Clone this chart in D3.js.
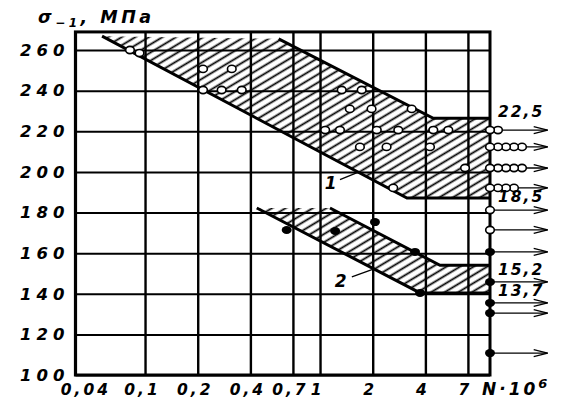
<!DOCTYPE html>
<html><head><meta charset="utf-8">
<script src="https://cdn.jsdelivr.net/npm/d3@7"></script>
<style>
body{margin:0;background:#fff;}
svg{display:block;}
.t{font-family:"DejaVu Sans",sans-serif;font-style:italic;font-weight:bold;fill:#000;}
</style></head>
<body><svg id="c" width="574" height="411"></svg>
<script>
// ---- data ----
const xTicks = [0.04, 0.1, 0.2, 0.4, 0.7, 1, 2, 4, 7];
const xTickLabels = ["0,04", "0,1", "0,2", "0,4", "0,7", "1", "2", "4", "7"];
const yTicks = [100, 120, 140, 160, 180, 200, 220, 240, 260];
const yTickLabels = ["100", "120", "140", "160", "180", "200", "220", "240", "260"];
const xDomain = [0.04, 9.36];
const yDomain = [100, 268.9];

// band boundaries [N·10^6, MPa]
const band1Lower = [[0.0568, 266.8], [3.14, 187.1], [9.36, 187.1]];
const band1Upper = [[0.58, 265.5], [4.44, 226.4], [9.36, 226.4]];
const band2Lower = [[0.435, 182.2], [3.73, 140.4], [9.36, 140.4]];
const band2Upper = [[1.14, 182.2], [4.85, 154.0], [9.36, 154.0]];

// series 1 (open circles)
const s1N = [0.082, 0.093, 0.2145, 0.313, 0.2145, 0.274, 0.357, 1.33, 1.73, 1.48, 1.97, 3.34,
             1.07, 1.30, 2.11, 2.80, 4.44, 5.41, 1.69, 2.40, 4.25, 6.74, 2.62];
const s1S = [260, 258.5, 250.7, 250.7, 240.3, 240.3, 240.3, 240.3, 240.3, 231, 231, 231,
             220.6, 220.6, 220.6, 220.6, 220.6, 220.6, 212.3, 212.3, 212.3, 201.9, 192.1];
// series 2 (solid dots)
const s2N = [0.645, 1.22, 2.06, 3.49, 3.73];
const s2S = [171.4, 170.9, 175.3, 160.6, 140.4];

// run-outs (unbroken specimens) at N end
const runoutN = 9.36;
const runoutEndN = 20;
const runOpenS = [220.6, 212.3, 201.9, 192.1, 181.2, 171.4];
const runOpenCount = [2, 5, 5, 4, 1, 1];
const runSolidS = [160.6, 145.8, 135.5, 130.5, 110.8];

// level labels
const levelLabels = ["22,5", "18,5", "15,2", "13,7"];
const levelValues = [226.4, 187.1, 154.0, 140.4];

// curve labels with leaders
const curveNames = ["1", "2"];
const curveLabelPos = [[1.15, 191.5], [1.31, 143.5]];
const curveLeaders = [[[1.30, 196.2], [1.63, 199.6]], [[1.52, 148.3], [1.98, 151.9]]];

// ---- drawing ----
const svg = d3.select("#c");
const x = d3.scaleLog().domain(xDomain).range([75.4, 490]);
const y = d3.scaleLinear().domain([100, 260]).range([375, 50]);
const pTop = y(yDomain[1]), pBottom = y(100), pLeft = x(xDomain[0]), pRight = x(xDomain[1]);

const defs = svg.append("defs");
const pat = defs.append("pattern").attr("id", "hatch").attr("patternUnits", "userSpaceOnUse")
  .attr("width", 12).attr("height", 7).attr("patternTransform", "rotate(-31)");
pat.append("line").attr("x1", 0).attr("x2", 12).attr("y1", 3.5).attr("y2", 3.5)
  .attr("stroke", "#000").attr("stroke-width", 1.8);

// grid via axes
const gx = svg.append("g").attr("transform", `translate(0,${pBottom})`)
  .call(d3.axisBottom(x).tickValues(xTicks).tickSize(-(pBottom - pTop)).tickPadding(9)
    .tickFormat((d, i) => xTickLabels[i]));
gx.select(".domain").remove();
gx.selectAll(".tick line").attr("stroke", "#000").attr("stroke-width", 2.4);
gx.selectAll(".tick text").attr("class", "t").attr("font-size", 15.5)
  .style("letter-spacing", "3px").attr("text-anchor", "middle")
  .attr("dx", (d, i) => i === 0 ? 10 : -3);

const gy = svg.append("g").attr("transform", `translate(${pLeft},0)`)
  .call(d3.axisLeft(y).tickValues(yTicks).tickSize(-(pRight - pLeft)).tickPadding(6)
    .tickFormat((d, i) => yTickLabels[i]));
gy.select(".domain").remove();
gy.selectAll(".tick line").attr("stroke", "#000").attr("stroke-width", 2);
gy.selectAll(".tick text").attr("class", "t").attr("font-size", 16.5)
  .style("letter-spacing", "5px");

// bands
const line = d3.line().x(d => x(d[0])).y(d => y(d[1]));
function band(lower, upper) {
  const poly = lower.concat(upper.slice().reverse());
  svg.append("path").attr("d", line(poly) + "Z").attr("fill", "url(#hatch)").attr("stroke", "none");
  svg.append("path").attr("d", line(lower)).attr("fill", "none").attr("stroke", "#000").attr("stroke-width", 3);
  svg.append("path").attr("d", line(upper)).attr("fill", "none").attr("stroke", "#000").attr("stroke-width", 3);
}
band(band1Lower, band1Upper);
band(band2Lower, band2Upper);

// frame
svg.append("rect").attr("x", pLeft).attr("y", pTop).attr("width", pRight - pLeft).attr("height", pBottom - pTop)
  .attr("fill", "none").attr("stroke", "#000").attr("stroke-width", 3);

// arrows for run-outs
function arrow(s) {
  const x0 = x(runoutN), x1 = x(runoutEndN), yy = y(s);
  svg.append("line").attr("x1", x0).attr("x2", x1).attr("y1", yy).attr("y2", yy)
    .attr("stroke", "#000").attr("stroke-width", 1.3);
  svg.append("path").attr("d", `M${x1 - 14},${yy - 3.5}L${x1},${yy}L${x1 - 14},${yy + 3.5}`)
    .attr("fill", "none").attr("stroke", "#000").attr("stroke-width", 1.3);
}
runOpenS.forEach(arrow);
runSolidS.forEach(arrow);

// points
s1N.forEach((n, i) => {
  svg.append("ellipse").attr("cx", x(n)).attr("cy", y(s1S[i])).attr("rx", 4.3).attr("ry", 3.6)
    .attr("fill", "#fff").attr("stroke", "#000").attr("stroke-width", 1.6);
});
s2N.forEach((n, i) => {
  svg.append("ellipse").attr("cx", x(n)).attr("cy", y(s2S[i])).attr("rx", 5).attr("ry", 4)
    .attr("fill", "#000");
});
runOpenS.forEach((s, i) => {
  for (let k = runOpenCount[i] - 1; k >= 0; k--) {
    svg.append("ellipse").attr("cx", x(runoutN) + k * 8).attr("cy", y(s)).attr("rx", 4.3).attr("ry", 3.6)
      .attr("fill", "#fff").attr("stroke", "#000").attr("stroke-width", 1.6);
  }
});
runSolidS.forEach(s => {
  svg.append("ellipse").attr("cx", x(runoutN)).attr("cy", y(s)).attr("rx", 5).attr("ry", 4).attr("fill", "#000");
});

// level labels
const levelDy = [-1, 4, 10, 3];
levelLabels.forEach((t, i) => {
  svg.append("text").attr("class", "t").attr("font-size", 15.5).style("letter-spacing", "2px")
    .attr("x", x(runoutN) + 8).attr("y", y(levelValues[i]) + levelDy[i]).text(t);
});

// curve labels
curveNames.forEach((t, i) => {
  svg.append("text").attr("class", "t").attr("font-size", 17).attr("text-anchor", "middle")
    .attr("x", x(curveLabelPos[i][0])).attr("y", y(curveLabelPos[i][1])).text(t);
  svg.append("path").attr("d", line(curveLeaders[i])).attr("stroke", "#000").attr("stroke-width", 1.3).attr("fill", "none");
});

// axis titles
const yt = svg.append("text").attr("class", "t").attr("font-size", 17.5).style("letter-spacing", "3.5px")
  .attr("x", 38).attr("y", 23);
yt.append("tspan").text("σ");
yt.append("tspan").attr("font-size", 12).attr("dy", 4).text("−1");
yt.append("tspan").attr("dy", -4).text(", МПа");

const xt = svg.append("text").attr("class", "t").attr("font-size", 17).style("letter-spacing", "3px")
  .attr("x", 482).attr("y", 395);
xt.append("tspan").text("N·10");
xt.append("tspan").attr("font-size", 13).attr("dy", -7).text("6");
</script></body></html>
